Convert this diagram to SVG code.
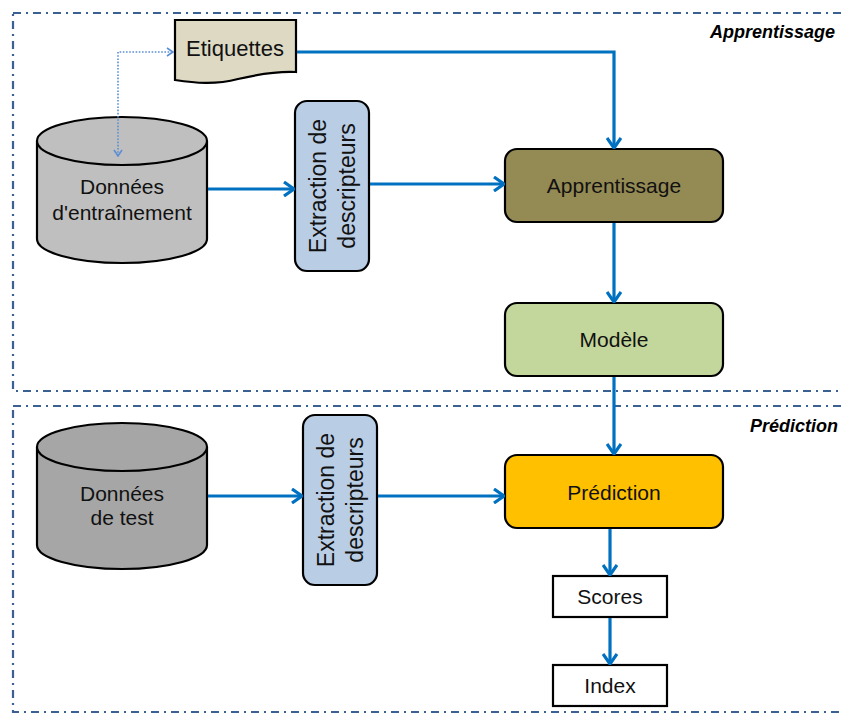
<svg xmlns="http://www.w3.org/2000/svg" width="843" height="713" viewBox="0 0 843 713">
<defs>
<style>
.frame{fill:none;stroke:#3B6192;stroke-width:2.2;stroke-dasharray:8 5 2 5}
.node{stroke:#000;stroke-width:2.2}
.lbl{font-family:"Liberation Sans",Arial,sans-serif;font-size:21px;fill:#111;text-anchor:middle}
.big{font-size:22px}
.vert{font-size:23px}
.zone{font-family:"Liberation Sans",Arial,sans-serif;font-size:18px;font-weight:bold;font-style:italic;fill:#000;text-anchor:end}
.conn{fill:none;stroke:#0070C0;stroke-width:3.2}
.dot{fill:none;stroke:#5B8ED6;stroke-width:1.6;stroke-dasharray:1.6 1.6}
</style>
<marker id="ah" viewBox="0 0 12 16" refX="11" refY="8" markerWidth="12" markerHeight="16" markerUnits="userSpaceOnUse" orient="auto">
<path d="M1,1 L11,8 L1,15" fill="none" stroke="#0070C0" stroke-width="3.2"/>
</marker>
<marker id="ahd" viewBox="0 0 8 10" refX="7" refY="5" markerWidth="8" markerHeight="10" markerUnits="userSpaceOnUse" orient="auto-start-reverse">
<path d="M1,1 L7,5 L1,9" fill="none" stroke="#5B8ED6" stroke-width="1.6"/>
</marker>
</defs>
<rect width="843" height="713" fill="#fff"/>
<g id="zone-apprentissage">
<rect class="frame" x="13" y="13" width="860" height="378"/>
<text class="zone" x="835" y="38">Apprentissage</text>
</g>
<g id="zone-prediction">
<rect class="frame" x="13" y="406" width="860" height="306"/>
<text class="zone" x="838" y="432">Prédiction</text>
</g>
<g id="etiquettes">
<path class="node" fill="#DDD9C3" d="M175,20 H296 V72 C275,71 255,75 238,79 C215,85 195,83 175,80 Z"/>
<text class="lbl big" x="235" y="56">Etiquettes</text>
</g>
<g id="donnees-entrainement">
<path class="node" fill="#BFBFBF" d="M37,141 V239 A85,24 0 0 0 207,239 V141"/>
<ellipse class="node" fill="#BFBFBF" cx="122" cy="141" rx="85" ry="24"/>
<text class="lbl" x="122" y="194">Données</text>
<text class="lbl" x="122" y="220">d'entraînement</text>
</g>
<g id="extraction-1">
<rect class="node" fill="#B9CDE5" x="295" y="101" width="74" height="170" rx="12"/>
<text class="lbl vert" transform="translate(326,186) rotate(-90)">Extraction de</text>
<text class="lbl vert" transform="translate(355,186) rotate(-90)">descripteurs</text>
</g>
<g id="apprentissage">
<rect class="node" fill="#948A54" x="505" y="149" width="218" height="73" rx="12"/>
<text class="lbl" x="614" y="193">Apprentissage</text>
</g>
<g id="modele">
<rect class="node" fill="#C3D69B" x="505" y="303" width="218" height="73" rx="12"/>
<text class="lbl" x="614" y="347">Modèle</text>
</g>
<g id="donnees-test">
<path class="node" fill="#A6A6A6" d="M37,447 V545 A85,24 0 0 0 207,545 V447"/>
<ellipse class="node" fill="#A6A6A6" cx="122" cy="447" rx="85" ry="24"/>
<text class="lbl" x="122" y="501">Données</text>
<text class="lbl" x="122" y="525">de test</text>
</g>
<g id="extraction-2">
<rect class="node" fill="#B9CDE5" x="303" y="415" width="74" height="170" rx="12"/>
<text class="lbl vert" transform="translate(334,500) rotate(-90)">Extraction de</text>
<text class="lbl vert" transform="translate(363,500) rotate(-90)">descripteurs</text>
</g>
<g id="prediction">
<rect class="node" fill="#FFC000" x="505" y="455" width="218" height="73" rx="12"/>
<text class="lbl" x="614" y="500">Prédiction</text>
</g>
<g id="scores">
<rect class="node" fill="#fff" x="553" y="576" width="114" height="41"/>
<text class="lbl" x="610" y="604">Scores</text>
</g>
<g id="index">
<rect class="node" fill="#fff" x="553" y="665" width="114" height="41"/>
<text class="lbl" x="610" y="693">Index</text>
</g>
<g id="connectors">
<path class="dot" d="M118,156 V52 H173" marker-start="url(#ahd)" marker-end="url(#ahd)"/>
<path class="conn" d="M208,189 H294" marker-end="url(#ah)"/>
<path class="conn" d="M370,184 H504" marker-end="url(#ah)"/>
<path class="conn" d="M297,52 H614 V148" marker-end="url(#ah)"/>
<path class="conn" d="M614,223 V302" marker-end="url(#ah)"/>
<path class="conn" d="M614,377 V454" marker-end="url(#ah)"/>
<path class="conn" d="M208,496 H302" marker-end="url(#ah)"/>
<path class="conn" d="M378,496 H504" marker-end="url(#ah)"/>
<path class="conn" d="M610,529 V575" marker-end="url(#ah)"/>
<path class="conn" d="M610,618 V664" marker-end="url(#ah)"/>
</g>
</svg>
